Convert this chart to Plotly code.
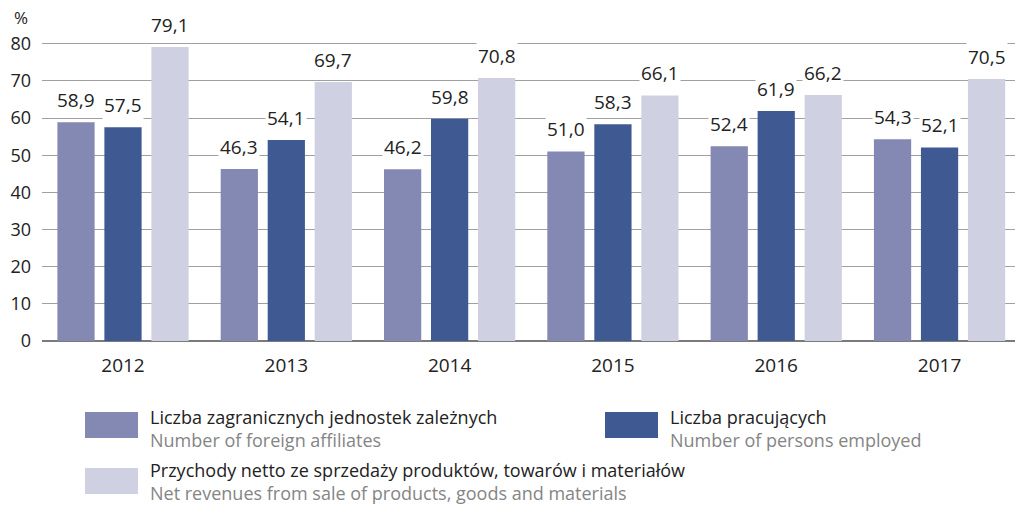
import plotly.graph_objects as go

years = ["2012", "2013", "2014", "2015", "2016", "2017"]
affiliates = [58.9, 46.3, 46.2, 51.0, 52.4, 54.3]
employed = [57.5, 54.1, 59.8, 58.3, 61.9, 52.1]
revenues = [79.1, 69.7, 70.8, 66.1, 66.2, 70.5]
names_pl = ["Liczba zagranicznych jednostek zależnych", "Liczba pracujących",
            "Przychody netto ze sprzedaży produktów, towarów i materiałów"]
names_en = ["Number of foreign affiliates", "Number of persons employed",
            "Net revenues from sale of products, goods and materials"]
colors = ["#8389b3", "#3f5a93", "#cfd1e3"]
yticks = [0, 10, 20, 30, 40, 50, 60, 70, 80]

FONT = "Open Sans"
series = [affiliates, employed, revenues]
step = 0.2878
bw = 0.228

W, H = 1015, 506
L, T, B = 42, 14, 165
PB = H - B            # plot bottom in page px
PH = H - T - B        # plot height


def px(x):
    return (x - L) / (W - L)


def py(y):
    return (PB - y) / PH


fig = go.Figure()
annotations = []
for s, vals in enumerate(series):
    xs = [i + (s - 1) * step for i in range(len(years))]
    fig.add_trace(go.Bar(x=xs, y=vals, width=bw, marker=dict(color=colors[s], line=dict(width=0)),
                         name=names_pl[s], showlegend=False, hoverinfo="y"))
    for x, v in zip(xs, vals):
        annotations.append(dict(x=x, y=v, xref="x", yref="y", text=f"{v:.1f}".replace(".", ","),
                                showarrow=False, yanchor="bottom", yshift=7, bgcolor="white",
                                borderpad=1, font=dict(family=FONT, size=19, color="#222")))

annotations.append(dict(x=px(21), y=py(18), xref="paper", yref="paper", xanchor="center", yanchor="middle",
                        text="%", showarrow=False, font=dict(family=FONT, size=17, color="#222")))

# legend
shapes = []
leg_pos = [(85, 412), (605, 412), (85, 468)]
for s, (lx, ly) in enumerate(leg_pos):
    shapes.append(dict(type="rect", xref="paper", yref="paper",
                       x0=px(lx), x1=px(lx + 53), y0=py(ly + 26), y1=py(ly),
                       fillcolor=colors[s], line=dict(width=0)))
    annotations.append(dict(x=px(lx + 64), y=py(min(ly + 41, H)), xref="paper", yref="paper",
                            xanchor="left", yanchor="bottom", showarrow=False, align="left",
                            borderpad=0,
                            text=f"{names_pl[s]}<br><span style='color:#858585'>{names_en[s]}</span>",
                            font=dict(family=FONT, size=18, color="#222")))

fig.update_layout(
    width=W, height=H,
    margin=dict(l=L, r=0, t=T, b=B),
    plot_bgcolor="white", paper_bgcolor="white",
    barmode="overlay",
    annotations=annotations, shapes=shapes,
    xaxis=dict(range=[-0.496, 5.462], tickvals=list(range(len(years))), ticktext=years,
               showgrid=False, zeroline=False, showline=False, ticks="",
               ticklabelstandoff=11,
               tickfont=dict(family=FONT, size=19, color="#222")),
    yaxis=dict(range=[0, 88], tickvals=yticks, ticktext=[str(t) for t in yticks],
               showgrid=True, gridcolor="#a0a0a0", gridwidth=1, zeroline=True,
               zerolinecolor="#7a7a7a", zerolinewidth=2, showline=False, ticks="",
               ticklabelstandoff=10,
               tickfont=dict(family=FONT, size=18, color="#222")),
)
fig.write_html("out.html", config={"displayModeBar": False},
               post_script="document.body.style.margin='0px';")
